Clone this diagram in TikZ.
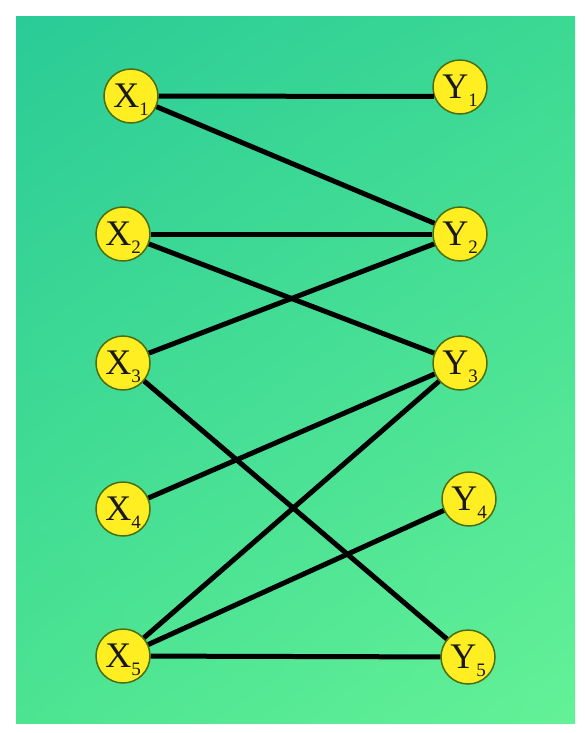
\documentclass[tikz,border=0pt]{standalone}
\usepackage{fontspec}
\setmainfont{Liberation Serif}
\usetikzlibrary{shadings}
\definecolor{bgUL}{HTML}{2ACB97}
\definecolor{bgUR}{HTML}{3CD994}
\definecolor{bgLL}{HTML}{4CE492}
\definecolor{bgLR}{HTML}{64F197}
\definecolor{nodefill}{HTML}{FFEF22}
\definecolor{nodeedge}{HTML}{4B6E12}
\newcommand\vlab[2]{#1\raisebox{-8pt}[0pt][0pt]{\fontsize{19}{19}\selectfont #2}}
\begin{document}
\begin{tikzpicture}[x=1pt,y=-1pt,
  vtx/.style={circle, draw=nodeedge, line width=1.5pt, fill=nodefill,
    minimum size=54pt, inner sep=0pt, text=black!90,
    font=\fontsize{36}{36}\selectfont},
  edge/.style={line width=5pt, black}]
\useasboundingbox (0,0) rectangle (585,733);
\fill[white] (0,0) rectangle (585,733);
\shade[upper left=bgUL, upper right=bgUR, lower left=bgLL, lower right=bgLR]
  (16,17) rectangle (575,723);
\node[vtx] (X1) at (131,96) {\vlab{X}{1}};
\node[vtx] (X2) at (123,234) {\vlab{X}{2}};
\node[vtx] (X3) at (123,363) {\vlab{X}{3}};
\node[vtx] (X4) at (123,509) {\vlab{X}{4}};
\node[vtx] (X5) at (123,656) {\vlab{X}{5}};
\node[vtx] (Y1) at (460,87) {\vlab{Y}{1}};
\node[vtx] (Y2) at (460,234) {\vlab{Y}{2}};
\node[vtx] (Y3) at (460,363) {\vlab{Y}{3}};
\node[vtx] (Y4) at (469,499) {\vlab{Y}{4}};
\node[vtx] (Y5) at (468,657) {\vlab{Y}{5}};
\draw[edge] (X1) -- (Y1.200);
\draw[edge] (X1) -- (Y2);
\draw[edge] (X2) -- (Y2);
\draw[edge] (X2) -- (Y3);
\draw[edge] (X3) -- (Y2);
\draw[edge] (X3) -- (Y5);
\draw[edge] (X4) -- (Y3);
\draw[edge] (X5) -- (Y3);
\draw[edge] (X5) -- (Y4);
\draw[edge] (X5) -- (Y5);
\end{tikzpicture}
\end{document}
